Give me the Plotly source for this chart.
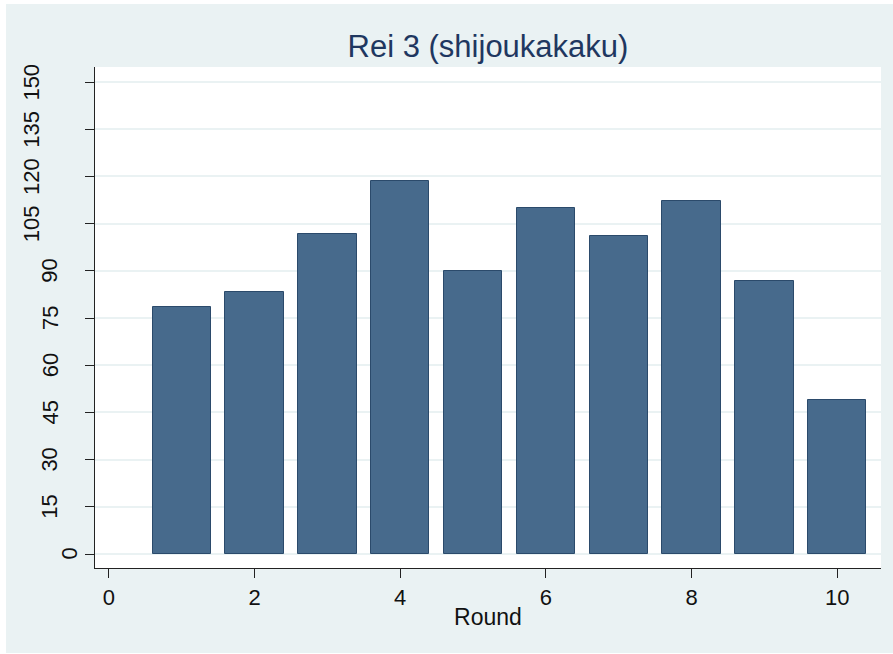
import plotly.graph_objects as go

rounds = [1, 2, 3, 4, 5, 6, 7, 8, 9, 10]
prices = [78.5, 83.3, 101.7, 118.5, 89.9, 110.0, 101.2, 112.2, 86.8, 49.0]
y_ticks = [0, 15, 30, 45, 60, 75, 90, 105, 120, 135, 150]
y_labels = [str(v) for v in y_ticks]
x_ticks = [0, 2, 4, 6, 8, 10]

W, H = 893, 654
L, R, T, B = 95, 12, 67, 86
pw, ph = W - L - R, H - T - B

fig = go.Figure()
fig.add_trace(go.Bar(
    x=rounds, y=prices, width=0.8,
    marker=dict(color="#476a8c", line=dict(color="#2b4a6b", width=1)),
))

def px2paper_x(p):
    return (p - L) / pw

def px2paper_y(p):
    return (H - B - p) / ph

# rotated y tick labels, placed Stata-style (offset grows with label length)
annotations = []
for v, lab in zip(y_ticks, y_labels):
    cx = 87 - 18.5 * len(lab)
    annotations.append(dict(
        x=px2paper_x(cx), xref="paper", y=v, yref="y",
        text=lab, textangle=-90, showarrow=False,
        xanchor="center", yanchor="middle",
        font=dict(size=22, color="#111111", family="Liberation Sans, Arial, sans-serif"),
    ))

fig.update_layout(
    width=W, height=H,
    margin=dict(l=L, r=R, t=T, b=B),
    paper_bgcolor="white",
    plot_bgcolor="rgba(0,0,0,0)",
    showlegend=False,
    font=dict(family="Liberation Sans, Arial, sans-serif", color="#111111"),
    title=dict(text="Rei 3 (shijoukakaku)", x=0.5, xref="paper", xanchor="center",
               y=1 - 46 / H, yref="container", yanchor="middle",
               font=dict(size=31, color="#1f3760")),
    shapes=[dict(type="rect", xref="paper", yref="paper",
                 x0=px2paper_x(6), x1=px2paper_x(893),
                 y0=px2paper_y(653), y1=px2paper_y(4),
                 fillcolor="#eaf2f3", line=dict(width=0), layer="below"),
            dict(type="rect", xref="paper", yref="paper",
                 x0=0, x1=1, y0=0, y1=1,
                 fillcolor="white", line=dict(width=0), layer="below")],
    annotations=annotations,
    xaxis=dict(range=[-0.19, 10.6], tickvals=x_ticks, ticktext=[str(v) for v in x_ticks],
               showgrid=False, zeroline=False, showline=True, linecolor="#222222", linewidth=1.2,
               ticks="outside", ticklen=9, tickcolor="#222222", tickwidth=1.2,
               tickfont=dict(size=22, color="#111111"), automargin=False,
               title=dict(text="Round", font=dict(size=23, color="#111111"), standoff=0)),
    yaxis=dict(range=[-4.45, 154.8], tickvals=y_ticks, showticklabels=False,
               showgrid=True, gridcolor="#eaf2f3", gridwidth=1.5,
               zeroline=False, showline=True, linecolor="#222222", linewidth=1.2,
               ticks="outside", ticklen=9, tickcolor="#222222", tickwidth=1.2,
               automargin=False),
    bargap=0,
)

fig.write_html("out.html", config={"displayModeBar": False},
               post_script="document.body.style.margin='0';")
